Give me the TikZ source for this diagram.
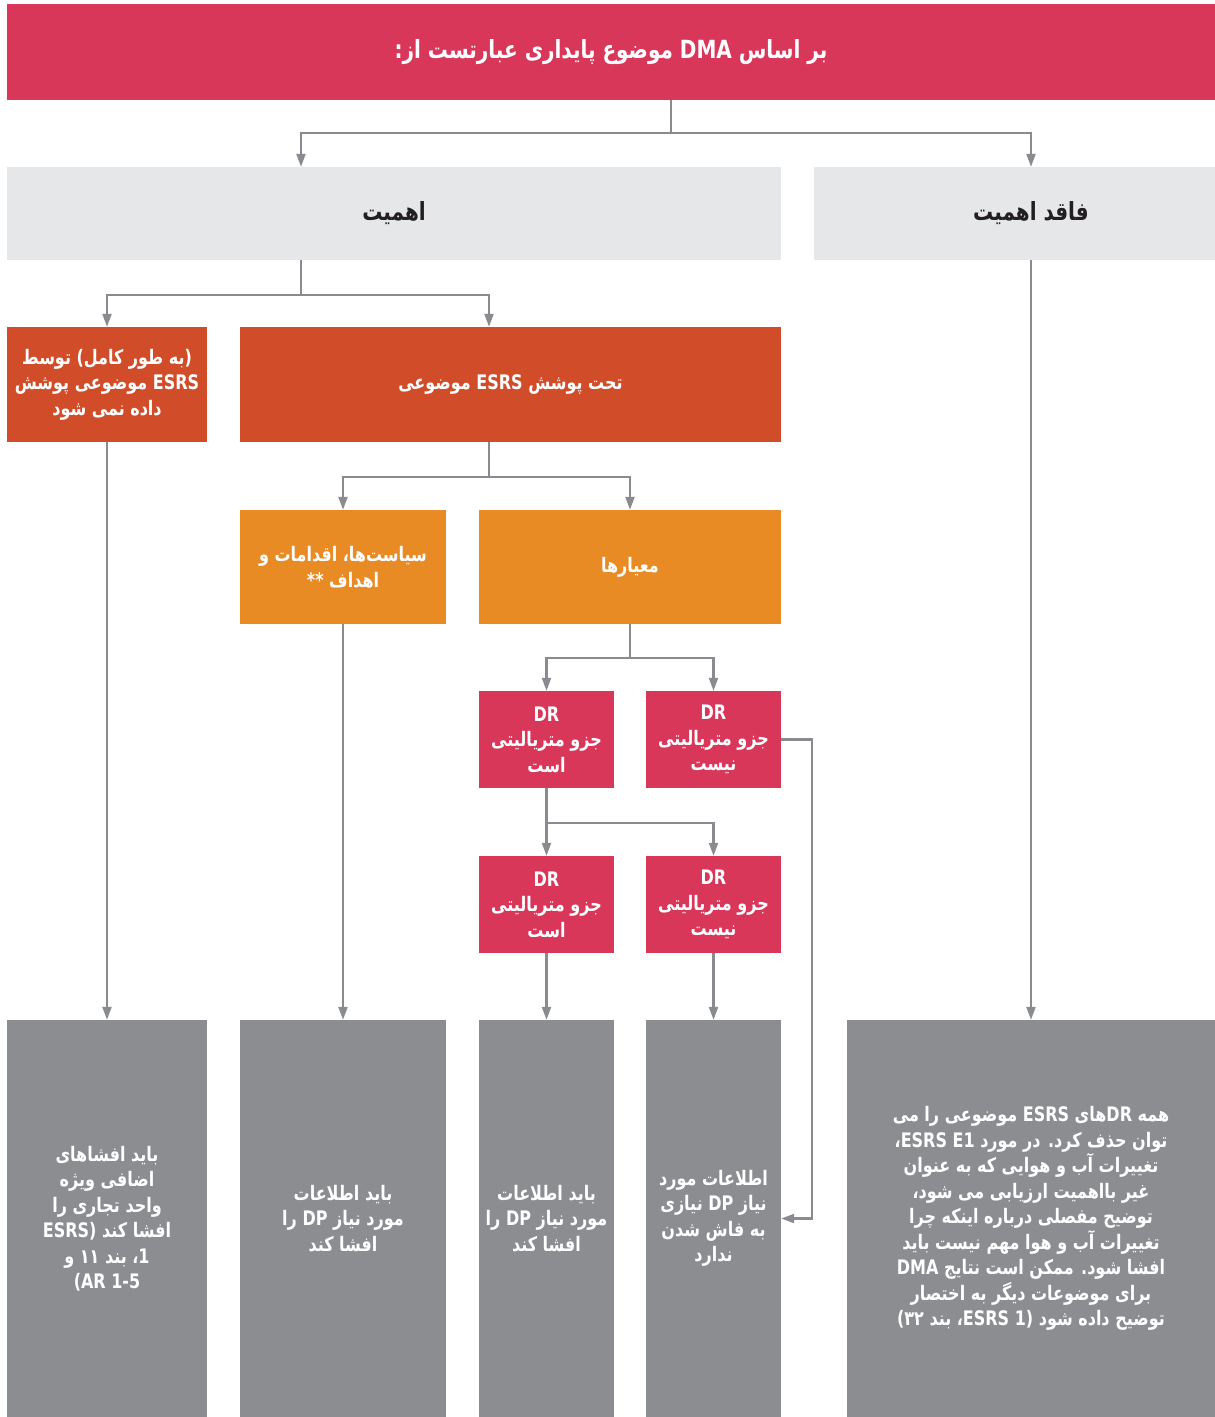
\documentclass[tikz,border=0pt]{standalone}
\usepackage{fontspec}
\setmainfont{DejaVu Sans}
\newfontfamily\fafont[Script=Arabic,FakeStretch=0.8]{DejaVu Sans}
\TeXXeTstate=1
\usetikzlibrary{arrows.meta}

\definecolor{dmared}{HTML}{D9375A}
\definecolor{matgray}{HTML}{E6E7E8}
\definecolor{esrsred}{HTML}{D14C28}
\definecolor{esrsorange}{HTML}{E98B24}
\definecolor{outgray}{HTML}{8C8D91}
\definecolor{linegray}{HTML}{8A8B8E}
\definecolor{darktext}{HTML}{231F20}

\newcommand\rline[1]{\beginR #1\endR}
\newcommand\lword[1]{\beginL #1\endL{}}

\tikzset{
  box/.style={rectangle, inner sep=0pt, align=center, text=white,
    font=\fafont\bfseries\fontsize{20}{25.5}\selectfont},
  bigbox/.style={box, font=\fafont\bfseries\fontsize{25}{28}\selectfont},
  drbox/.style={box, fill=dmared, minimum width=135pt, minimum height=97pt},
  outbox/.style={box, fill=outgray, minimum height=397pt},
  arr/.style={draw=linegray, line width=2.2pt, ->},
}

\begin{document}
\begin{tikzpicture}[x=1pt,y=-1pt,>={Triangle[length=13pt,width=9pt]}]
\useasboundingbox (0,0) rectangle (1215,1417);
% header and the two branches
\node[bigbox, fill=dmared, minimum width=1208pt, minimum height=96pt] (head) at (611,52) {\rline{بر اساس DMA موضوع پایداری عبارتست از:}};
\node[bigbox, fill=matgray, text=darktext, minimum width=774pt, minimum height=93pt] (mat) at (394,213.5) {\rline{اهمیت}};
\node[bigbox, fill=matgray, text=darktext, minimum width=434pt, minimum height=93pt] (nonmat) at (1031,213.5) {\rline{فاقد اهمیت}};
% material topics
\node[box, fill=esrsred, minimum width=200pt, minimum height=115pt] (notcov) at (107,384.5) {\rline{(به طور کامل) توسط}\\\rline{ESRS موضوعی پوشش}\\\rline{داده نمی شود}};
\node[box, fill=esrsred, minimum width=541pt, minimum height=115pt] (cov) at (510.5,384.5) {\rline{تحت پوشش ESRS موضوعی}};
\node[box, fill=esrsorange, minimum width=206pt, minimum height=114pt] (pol) at (343,567) {\rline{سیاست‌ها، اقدامات و}\\\rline{اهداف **}};
\node[box, fill=esrsorange, minimum width=302pt, minimum height=114pt] (met) at (630,567) {\rline{معیارها}};
% disclosure requirements
\node[drbox] (dra) at (546.5,739.5) {DR\\\rline{جزو متریالیتی}\\\rline{است}};
\node[drbox] (drb) at (713.5,739.5) {DR\\\rline{جزو متریالیتی}\\\rline{نیست}};
\node[drbox] (drc) at (546.5,904.5) {DR\\\rline{جزو متریالیتی}\\\rline{است}};
\node[drbox] (drd) at (713.5,904.5) {DR\\\rline{جزو متریالیتی}\\\rline{نیست}};
% outcomes
\node[outbox, minimum width=200pt] (outa) at (107,1218.5) {\rline{باید افشاهای}\\\rline{اضافی ویژه}\\\rline{واحد تجاری را}\\\rline{افشا کند \lword{ESRS)}}\\\rline{\lword{1}، بند ۱۱ و}\\\rline{\lword{(AR 1-5}}};
\node[outbox, minimum width=206pt] (outb) at (343,1218.5) {\rline{باید اطلاعات}\\\rline{مورد نیاز DP را}\\\rline{افشا کند}};
\node[outbox, minimum width=135pt] (outc) at (546.5,1218.5) {\rline{باید اطلاعات}\\\rline{مورد نیاز DP را}\\\rline{افشا کند}};
\node[outbox, minimum width=135pt] (outd) at (713.5,1218.5) {\rline{اطلاعات مورد}\\\rline{نیاز DP نیازی}\\\rline{به فاش شدن}\\\rline{ندارد}};
\node[outbox, minimum width=368pt] (oute) at (1031,1218.5) {\rline{همه \lword{DR}های ESRS موضوعی را می}\\\rline{توان حذف کرد. در مورد \lword{ESRS E1}،}\\\rline{تغییرات آب و هوایی که به عنوان}\\\rline{غیر بااهمیت ارزیابی می شود،}\\\rline{توضیح مفصلی درباره اینکه چرا}\\\rline{تغییرات آب و هوا مهم نیست باید}\\\rline{افشا شود. ممکن است نتایج DMA}\\\rline{برای موضوعات دیگر به اختصار}\\\rline{توضیح داده شود (\lword{ESRS 1}، بند ۳۲)}};
% connectors
\draw[arr] ([xshift=60pt]head.south) -- ++(0,33) -| ([xshift=-93pt]mat.north);
\draw[arr] ([xshift=60pt]head.south) -- ++(0,33) -| (nonmat.north);
\draw[arr] ([xshift=-93pt]mat.south) -- ++(0,35) -| (notcov.north);
\draw[arr] ([xshift=-93pt]mat.south) -- ++(0,35) -| ([xshift=-21.5pt]cov.north);
\draw[arr] ([xshift=-21.5pt]cov.south) -- ++(0,35) -| (pol.north);
\draw[arr] ([xshift=-21.5pt]cov.south) -- ++(0,35) -| (met.north);
\draw[arr] (met.south) -- ++(0,34) -| (dra.north);
\draw[arr] (met.south) -- ++(0,34) -| (drb.north);
\draw[arr] (dra.south) -- ++(0,35) -| (drc.north);
\draw[arr] (dra.south) -- ++(0,35) -| (drd.north);
\draw[arr] (drb.east) -- ++(31,0) |- (outd.east);
\draw[arr] (drc.south) -- (outc.north);
\draw[arr] (drd.south) -- (outd.north);
\draw[arr] (notcov.south) -- (outa.north);
\draw[arr] (pol.south) -- (outb.north);
\draw[arr] (nonmat.south) -- (oute.north);
\end{tikzpicture}
\end{document}
